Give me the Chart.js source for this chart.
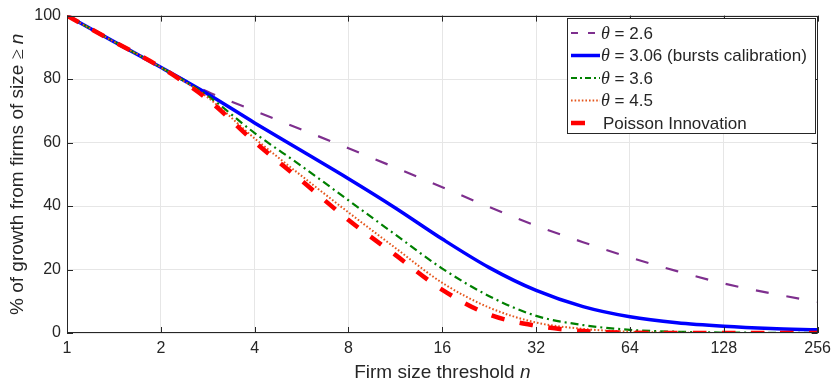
<!DOCTYPE html>
<html>
<head>
<meta charset="utf-8">
<script src="https://cdn.jsdelivr.net/npm/chart.js@4/dist/chart.umd.min.js"></script>
<style>
  html, body { margin: 0; padding: 0; background: #fff; }
  #c { display: block; }
</style>
</head>
<body>
<canvas id="c" width="837" height="387"></canvas>
<script>
// firm size thresholds (half octaves) and % of growth from firms of size >= n
var sizes = [1, 1.414, 2, 2.828, 4, 5.657, 8, 11.31, 16, 22.63, 32, 45.25, 64, 90.51, 128, 181, 256];
var theta26  = [100, 91.8, 83.7, 76.0, 70.0, 64.1, 58.2, 52.1, 45.9, 39.7, 33.8, 28.6, 23.8, 19.5, 15.6, 12.5, 9.8];
var theta306 = [100, 91.8, 83.7, 75.3, 66.2, 57.4, 48.6, 39.4, 29.6, 20.6, 13.4, 8.3, 5.1, 3.2, 2.1, 1.4, 1.0];
var theta36  = [100, 91.8, 83.7, 74.7, 63.0, 52.6, 41.8, 31.0, 20.3, 11.6, 5.4, 2.5, 1.0, 0.4, 0.15, 0.05, 0.0];
var theta45  = [100, 91.8, 83.7, 74.2, 61.3, 49.5, 38.0, 26.8, 15.8, 8.0, 3.3, 1.3, 0.4, 0.1, 0.0, 0.0, 0.0];
var poisson  = [100, 91.8, 83.7, 73.6, 60.2, 48.0, 35.6, 24.6, 13.6, 5.8, 2.3, 0.6, 0.1, 0.0, 0.0, 0.0, 0.0];

var xTicks = [1, 2, 4, 8, 16, 32, 64, 128, 256];
var yTicks = [0, 20, 40, 60, 80, 100];
// legend: [italic theta part, rest]
var legendLabels = [
  ['θ', ' = 2.6'],
  ['θ', ' = 3.06 (bursts calibration)'],
  ['θ', ' = 3.6'],
  ['θ', ' = 4.5'],
  ['', 'Poisson Innovation']
];

var SANS = '"Liberation Sans", Arial, Helvetica, sans-serif';
var SERIF = '"Liberation Serif", "Times New Roman", serif';
var INK = '#262626';

function pts(vals) {
  return vals.map(function (v, i) { return {x: sizes[i], y: v}; });
}

function series(vals, color, width, dash, keyDash) {
  return {
    data: pts(vals),
    borderColor: color,
    backgroundColor: color,
    borderWidth: width,
    borderDash: dash,
    keyDash: keyDash,
    pointRadius: 0,
    fill: false,
    cubicInterpolationMode: 'monotone'
  };
}

var datasets = [
  series(theta26, '#7e2f8e', 2.2, [13, 18], [7, 10]),
  series(theta306, '#0000ff', 3.5, [], []),
  series(theta36, '#008000', 2.2, [8, 4, 2, 4], [6, 3, 2, 3]),
  series(theta45, '#e5561c', 2, [1.6, 2], [1.6, 2]),
  series(poisson, '#ff0000', 4.5, [13.5, 15.5], [14, 20])
];
// later series on top, like the original
datasets.forEach(function (d, i) { d.order = datasets.length - i; });

// draw mixed-style text pieces, returns total width
function drawPieces(ctx, pieces, x, y, measureOnly) {
  var w = 0;
  pieces.forEach(function (p) {
    ctx.font = p.font;
    if (!measureOnly) ctx.fillText(p.text, x + w, y);
    w += ctx.measureText(p.text).width;
  });
  return w;
}

var framePlugin = {
  id: 'frame',
  afterDatasetsDraw: function (chart) {
    var ctx = chart.ctx, a = chart.chartArea;
    var xs = chart.scales.x, ys = chart.scales.y;
    ctx.save();
    ctx.strokeStyle = INK;
    ctx.lineWidth = 1;
    ctx.setLineDash([]);
    ctx.strokeRect(Math.round(a.left) + 0.5, Math.round(a.top) + 0.5,
      Math.round(a.right - a.left) - 1, Math.round(a.bottom - a.top) - 1);
    ctx.beginPath();
    xTicks.forEach(function (t) {
      var px = Math.round(xs.getPixelForValue(t)) + 0.5;
      ctx.moveTo(px, a.bottom); ctx.lineTo(px, a.bottom - 6);
      ctx.moveTo(px, a.top); ctx.lineTo(px, a.top + 6);
    });
    yTicks.forEach(function (t) {
      var py = Math.round(ys.getPixelForValue(t)) + 0.5;
      ctx.moveTo(a.left, py); ctx.lineTo(a.left + 6, py);
      ctx.moveTo(a.right, py); ctx.lineTo(a.right - 6, py);
    });
    ctx.stroke();
    ctx.restore();
  }
};

var titlePlugin = {
  id: 'axisTitles',
  afterDraw: function (chart) {
    var ctx = chart.ctx, a = chart.chartArea;
    ctx.save();
    ctx.fillStyle = INK;
    ctx.textBaseline = 'middle';
    var xt = [
      {text: 'Firm size threshold ', font: '19px ' + SANS},
      {text: 'n', font: 'italic 19px ' + SANS}
    ];
    var w = drawPieces(ctx, xt, 0, 0, true);
    drawPieces(ctx, xt, (a.left + a.right) / 2 - w / 2, 373, false);

    var yt = [
      {text: '% of growth from firms of size ', font: '19px ' + SANS},
      {text: '≥ ', font: '19px ' + SERIF},
      {text: 'n', font: 'italic 19px ' + SANS}
    ];
    w = drawPieces(ctx, yt, 0, 0, true);
    ctx.translate(18, (a.top + a.bottom) / 2);
    ctx.rotate(-Math.PI / 2);
    drawPieces(ctx, yt, -w / 2, 0, false);
    ctx.restore();
  }
};

var legendPlugin = {
  id: 'boxLegend',
  afterDraw: function (chart) {
    var ctx = chart.ctx;
    var bx = 567, by = 18, bw = 248, bh = 115, rowH = 22.5;
    ctx.save();
    ctx.fillStyle = '#fff';
    ctx.fillRect(bx, by, bw, bh);
    ctx.strokeStyle = INK;
    ctx.lineWidth = 1;
    ctx.setLineDash([]);
    ctx.strokeRect(bx + 0.5, by + 0.5, bw, bh);
    datasets.forEach(function (d, i) {
      var y = by + 15 + i * rowH;
      ctx.beginPath();
      ctx.strokeStyle = d.borderColor;
      ctx.lineWidth = d.borderWidth;
      ctx.setLineDash(d.keyDash);
      ctx.lineDashOffset = 0;
      ctx.moveTo(571, y);
      ctx.lineTo(600, y);
      ctx.stroke();
      ctx.setLineDash([]);
      ctx.fillStyle = INK;
      ctx.textBaseline = 'middle';
      var lab = legendLabels[i];
      var pieces = [];
      if (lab[0]) pieces.push({text: lab[0], font: 'italic 18px ' + SERIF});
      pieces.push({text: lab[1], font: '17px ' + SANS});
      drawPieces(ctx, pieces, lab[0] ? 601 : 603, y + 1, false);
    });
    ctx.restore();
  }
};

new Chart(document.getElementById('c'), {
  type: 'line',
  data: {datasets: datasets},
  options: {
    responsive: false,
    animation: false,
    devicePixelRatio: 1,
    layout: {padding: {left: 0, right: 16, top: 10, bottom: 0}},
    plugins: {legend: {display: false}, tooltip: {enabled: false}},
    scales: {
      x: {
        type: 'logarithmic',
        min: 1,
        max: 256,
        afterBuildTicks: function (s) { s.ticks = xTicks.map(function (v) { return {value: v}; }); },
        afterFit: function (s) { s.height = 54; },
        border: {display: false},
        grid: {color: '#e6e6e6', drawTicks: false},
        ticks: {
          autoSkip: false, maxRotation: 0, padding: 6, color: INK,
          font: {family: SANS, size: 16},
          callback: function (v) { return String(v); }
        }
      },
      y: {
        min: 0,
        max: 100,
        afterBuildTicks: function (s) { s.ticks = yTicks.map(function (v) { return {value: v}; }); },
        afterFit: function (s) { s.width = 67; },
        border: {display: false},
        grid: {color: '#e6e6e6', drawTicks: false},
        ticks: {padding: 6, color: INK, font: {family: SANS, size: 16}}
      }
    }
  },
  plugins: [framePlugin, titlePlugin, legendPlugin]
});
</script>
</body>
</html>
